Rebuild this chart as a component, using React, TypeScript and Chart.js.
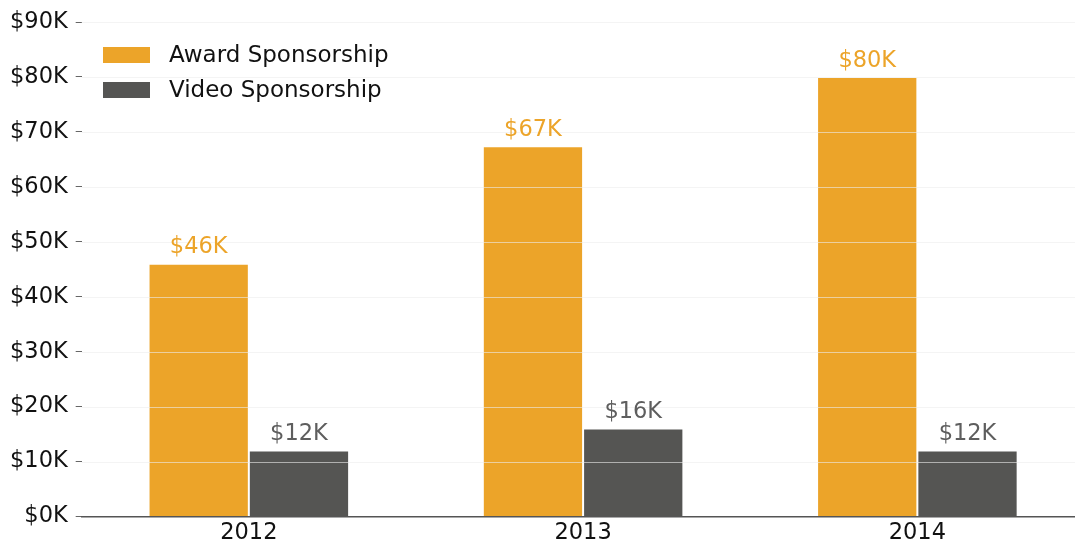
import React, { useEffect, useRef } from "react";
import { Chart, registerables } from "chart.js";

Chart.register(...registerables);

const categories = ["2012", "2013", "2014"];
const awardValues = [46000, 67400, 80000];
const videoValues = [12000, 16000, 12000];
const seriesNames = ["Award Sponsorship", "Video Sponsorship"];
const yTicks = [0, 10000, 20000, 30000, 40000, 50000, 60000, 70000, 80000, 90000];

const ORANGE = "#eca429";
const GRAY = "#555553";
const FONT = "'DejaVu Sans', sans-serif";
const FS = 22.5;

const fmt = (v: number) => "$" + Math.round(v / 1000) + "K";

const overlayPlugin = {
  id: "overlay",
  afterDatasetsDraw(chart: any) {
    const { ctx, chartArea, scales } = chart;
    const y = scales.y;
    ctx.save();
    ctx.strokeStyle = "rgba(236,236,236,0.6)";
    ctx.lineWidth = 1;
    yTicks.forEach((t) => {
      if (t === 0) return;
      const py = Math.round(y.getPixelForValue(t)) + 0.5;
      ctx.beginPath();
      ctx.moveTo(chartArea.left, py);
      ctx.lineTo(chartArea.right, py);
      ctx.stroke();
    });
    ctx.font = FS + "px " + FONT;
    ctx.textAlign = "center";
    ctx.textBaseline = "bottom";
    chart.data.datasets.forEach((ds: any, i: number) => {
      const meta = chart.getDatasetMeta(i);
      ctx.fillStyle = i === 0 ? ORANGE : "#5e5e5e";
      meta.data.forEach((bar: any, j: number) => {
        ctx.fillText(fmt(ds.data[j]), bar.x, bar.y - 5);
      });
    });
    const colors = [ORANGE, GRAY];
    ctx.font = "23px " + FONT;
    ctx.textAlign = "left";
    ctx.textBaseline = "middle";
    seriesNames.forEach((name, i) => {
      const cy = 55 + i * 35;
      ctx.fillStyle = colors[i];
      ctx.fillRect(103, cy - 8, 47, 16);
      ctx.fillStyle = "#111";
      ctx.fillText(name, 169, cy + 1);
    });
    ctx.restore();
  },
};

export default function App() {
  const ref = useRef<HTMLCanvasElement>(null);
  useEffect(() => {
    if (!ref.current) return;
    const chart = new Chart(ref.current, {
      type: "bar",
      data: {
        labels: categories,
        datasets: [
          {
            label: seriesNames[0],
            data: awardValues,
            backgroundColor: ORANGE,
            borderColor: "rgba(255,255,255,0.45)",
            borderWidth: 1,
          },
          {
            label: seriesNames[1],
            data: videoValues,
            backgroundColor: GRAY,
            borderColor: "rgba(255,255,255,0.3)",
            borderWidth: 1,
          },
        ],
      },
      options: {
        animation: false,
        responsive: false,
        maintainAspectRatio: false,
        layout: { padding: { top: 22, right: 5.5, left: 2, bottom: 0 } },
        datasets: { bar: { categoryPercentage: 0.6, barPercentage: 1.0 } },
        plugins: { legend: { display: false }, tooltip: { enabled: false } },
        scales: {
          x: {
            grid: { display: false, drawTicks: false },
            border: { display: true, color: "#555", width: 1.5 },
            ticks: { color: "#111", font: { family: FONT, size: FS, lineHeight: 1 }, padding: 5 },
          },
          y: {
            min: 0,
            max: 90000,
            afterBuildTicks: (axis: any) => {
              axis.ticks = yTicks.map((v) => ({ value: v }));
            },
            grid: {
              drawOnChartArea: false,
              drawTicks: true,
              tickLength: 6,
              color: "#666",
            },
            border: { display: false },
            ticks: {
              color: "#111",
              font: { family: FONT, size: FS },
              padding: 8,
              callback: (v: any) => fmt(Number(v)),
            },
          },
        },
      },
      plugins: [overlayPlugin],
    });
    return () => chart.destroy();
  }, []);
  return (
    <div
      style={{
        position: "fixed",
        left: 0,
        top: 0,
        width: 1075,
        height: 542,
        overflow: "hidden",
        background: "#fff",
      }}
    >
      <canvas ref={ref} width={1090} height={549} style={{ width: 1090, height: 549 }} />
    </div>
  );
}
